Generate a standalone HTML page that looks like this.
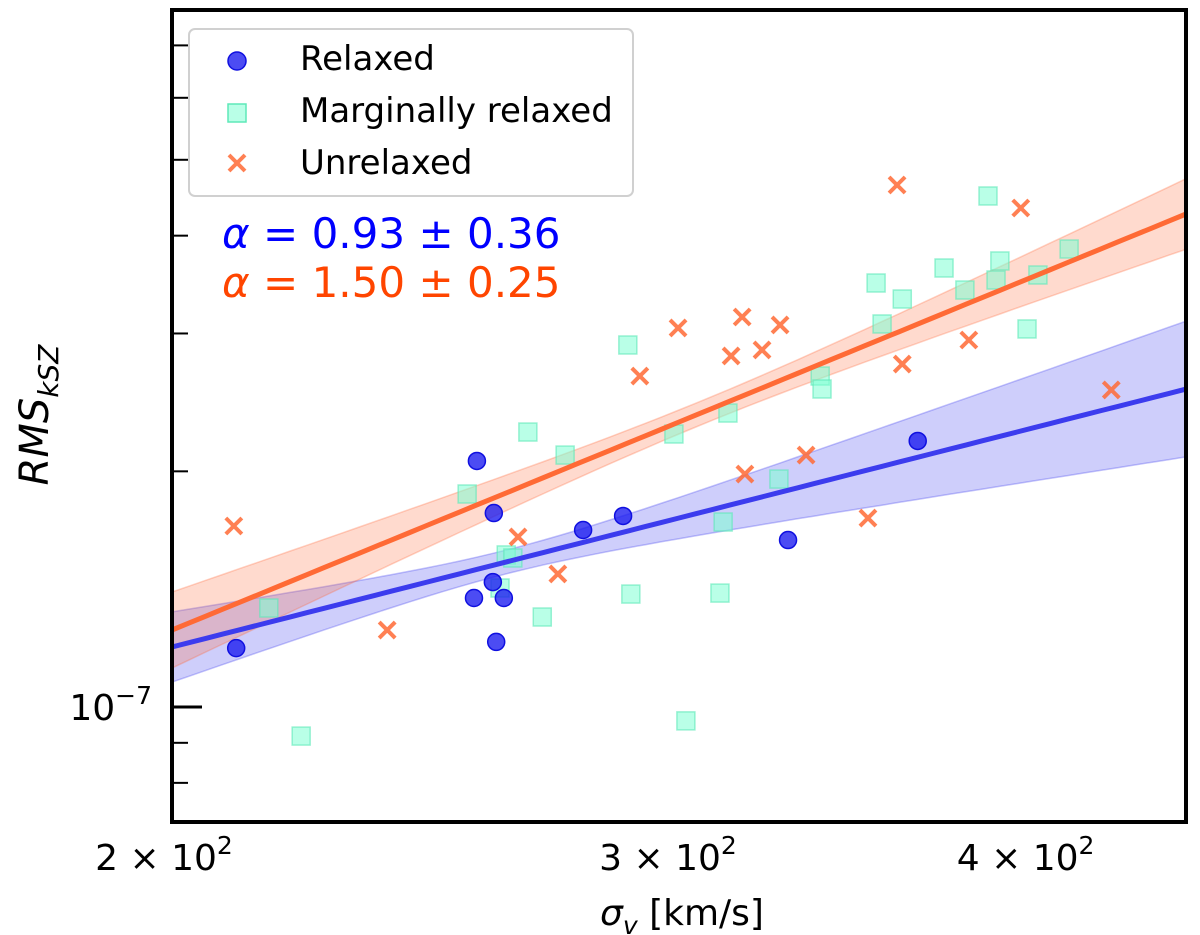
<!DOCTYPE html>
<html><head><meta charset="utf-8"><style>
html,body{margin:0;padding:0;background:#fff;width:1200px;height:935px;overflow:hidden}
svg text{font-family:"DejaVu Sans","Liberation Sans",sans-serif}
</style></head><body>
<svg id="chart" width="1200" height="935" viewBox="0 0 1200 935" xmlns="http://www.w3.org/2000/svg">
<g id="bands"></g><g id="points"></g><g id="lines"></g><g id="axes"></g>
</svg>
<script>
const relaxedV=[210.6,255.6,259.1,258.9,255.0,261.2,259.6,278.4,287.5,328.3,364.4];
const relaxedR=[1.189e-7,2.062e-7,1.769e-7,1.444e-7,1.378e-7,1.378e-7,1.211e-7,1.683e-7,1.754e-7,1.634e-7,2.187e-7];
const marginalV=[216.2,221.9,253.6,266.3,274.4,261.7,263.1,260.4,269.4,288.6,289.3,299.5,312.8,302.4,310.8,311.6,325.9,336.9,337.4,352.4,354.1,359.9,372.2,378.5,385.6,388.1,389.3,401.4,397.9,411.6];
const marginalR=[1.338e-7,0.918e-7,1.871e-7,2.245e-7,2.098e-7,1.564e-7,1.55e-7,1.419e-7,1.303e-7,2.9e-7,1.394e-7,2.232e-7,2.374e-7,0.96e-7,1.398e-7,1.723e-7,1.955e-7,2.647e-7,2.548e-7,3.48e-7,3.085e-7,3.32e-7,3.637e-7,3.409e-7,4.495e-7,3.511e-7,3.713e-7,3.563e-7,3.04e-7,3.846e-7];
const unrelaxedV=[210.2,237.8,264.2,272.8,291.4,300.5,313.6,316.4,321.5,317.1,326.2,333.1,350.1,358.4,359.9,379.7,395.9,425.8];
const unrelaxedR=[1.703e-7,1.254e-7,1.649e-7,1.479e-7,2.647e-7,3.049e-7,2.808e-7,3.149e-7,2.858e-7,1.984e-7,3.076e-7,2.098e-7,1.743e-7,4.643e-7,2.742e-7,2.943e-7,4.339e-7,2.541e-7];
const fitNames=['relaxed','unrelaxed'];
const fitAlpha=[0.93,1.50];
const fitAlphaErr=[0.36,0.25];
const fitNorm=[1.193e-7,1.254e-7];
const fitPivot=[262,306];
const fitNormErr=[0.035,0.035];
const xTickVals=[200,300,400];
const xTickLabels=['2','3','4'];
const yMinorVals=[8e-8,9e-8,2e-7,3e-7,4e-7,5e-7,6e-7,7e-7];

const L=172,R=1186,T=10,B=822;
const X=v=>172+1243*Math.log(v/200);
const Y=r=>707-340*Math.log(r/1e-7);
const NS='http://www.w3.org/2000/svg';
function mk(tag,attrs,parent){const e=document.createElementNS(NS,tag);for(const k in attrs)e.setAttribute(k,attrs[k]);parent.appendChild(e);return e;}
const bands=document.getElementById('bands'),pts=document.getElementById('points'),lines=document.getElementById('lines'),axes=document.getElementById('axes');
const vMin=200*Math.exp((L-172)/1243),vMax=200*Math.exp((R-172)/1243);
const bandCol=['#3a3aee','#ff6a3a'],lineCol=['#3c3cee','#ff6a35'];
for(let i=0;i<2;i++){
  const up=[],lo=[],ln=[];
  for(let k=0;k<=60;k++){
    const v=vMin*Math.pow(vMax/vMin,k/60);
    const d=Math.log(v/fitPivot[i]);
    const c=Math.log(fitNorm[i])+fitAlpha[i]*Math.log(v/200);
    const e=Math.sqrt(fitNormErr[i]**2+(fitAlphaErr[i]*d)**2);
    up.push(X(v).toFixed(1)+','+Y(Math.exp(c+e)).toFixed(1));
    lo.unshift(X(v).toFixed(1)+','+Y(Math.exp(c-e)).toFixed(1));
    ln.push(X(v).toFixed(1)+','+Y(Math.exp(c)).toFixed(1));
  }
  const b=mk('polygon',{points:up.concat(lo).join(' '),fill:bandCol[i],'fill-opacity':0.25,stroke:bandCol[i],'stroke-opacity':0.3,'stroke-width':1.5},bands);
  
  
  const l=mk('polyline',{points:ln.join(' '),fill:'none',stroke:lineCol[i],'stroke-width':5},lines);
  
  
}
for(let i=0;i<marginalV.length;i++){
  const x=X(marginalV[i]),y=Y(marginalR[i]);
  const s=mk('rect',{x:x-9,y:y-9,width:18,height:18,fill:'#7fffd4','fill-opacity':0.55,stroke:'#5ee8b8','stroke-opacity':0.6,'stroke-width':1.5},pts);
  
  
}
for(let i=0;i<unrelaxedV.length;i++){
  const x=X(unrelaxedV[i]),y=Y(unrelaxedR[i]);
  const g=mk('path',{d:`M${x-8},${y-8}L${x+8},${y+8}M${x-8},${y+8}L${x+8},${y-8}`,stroke:'#ff6a35','stroke-opacity':0.85,'stroke-width':4},pts);
  
  
}
for(let i=0;i<relaxedV.length;i++){
  const c=mk('circle',{cx:X(relaxedV[i]),cy:Y(relaxedR[i]),r:8.5,fill:'#1a1af0','fill-opacity':0.78,stroke:'#1010e0','stroke-width':1.5},pts);
  
  
}
const fr=mk('rect',{x:L,y:T,width:R-L,height:B-T,fill:'none',stroke:'#000','stroke-width':4},axes);


const yt=mk('line',{x1:L,x2:L+30,y1:Y(1e-7),y2:Y(1e-7),stroke:'#000','stroke-width':3},axes);


for(const v of yMinorVals){
  const t=mk('line',{x1:L,x2:L+16,y1:Y(v),y2:Y(v),stroke:'#000','stroke-width':2},axes);
  
  
}
const yl=mk('text',{x:152,y:Y(1e-7)+13,'text-anchor':'end','font-size':36},axes);
yl.innerHTML='10<tspan dy="-16" font-size="25">−7</tspan>';


for(let i=0;i<xTickVals.length;i++){
  const t=mk('text',{x:X(xTickVals[i])-8,y:870,'text-anchor':'middle','font-size':36},axes);
  t.innerHTML=xTickLabels[i]+' × 10<tspan dy="-16" font-size="25">2</tspan>';
  
  
}
const xl=mk('text',{x:682,y:925,'text-anchor':'middle','font-size':36},axes);
xl.innerHTML='<tspan font-style="italic">σ</tspan><tspan font-style="italic" font-size="25" dy="9">v</tspan><tspan dy="-9"> [km/s]</tspan>';


const ylab=mk('text',{x:0,y:0,'text-anchor':'middle','font-size':40,'font-style':'italic',transform:'translate(48,415) rotate(-90)'},axes);
ylab.innerHTML='RMS<tspan font-size="28" dy="10">kSZ</tspan>';


const lg=mk('g',{},axes);


mk('rect',{x:189,y:29,width:444,height:167,rx:6,fill:'#fff','fill-opacity':0.85,stroke:'#d0d0d0','stroke-width':2},lg);
mk('circle',{cx:237,cy:61,r:9,fill:'#1a1af0','fill-opacity':0.78,stroke:'#1010e0','stroke-width':1.5},lg);
mk('rect',{x:228,y:104,width:18,height:18,fill:'#7fffd4','fill-opacity':0.55,stroke:'#5ee8b8','stroke-width':1.5},lg);
mk('path',{d:'M229,155L245,171M229,171L245,155',stroke:'#ff6a35','stroke-opacity':0.85,'stroke-width':4},lg);
const labs=['Relaxed','Marginally relaxed','Unrelaxed'];
for(let i=0;i<3;i++){
  const t=mk('text',{x:300,y:70+52*i,'font-size':34},lg);
  t.textContent=labs[i];
  
  
}
const a1=mk('text',{x:222,y:248,'font-size':42,fill:'#0000ff'},axes);
a1.innerHTML='<tspan font-style="italic">α</tspan> = 0.93 ± 0.36';


const a2=mk('text',{x:222,y:297,'font-size':42,fill:'#ff4500'},axes);
a2.innerHTML='<tspan font-style="italic">α</tspan> = 1.50 ± 0.25';


</script>
</body></html>
